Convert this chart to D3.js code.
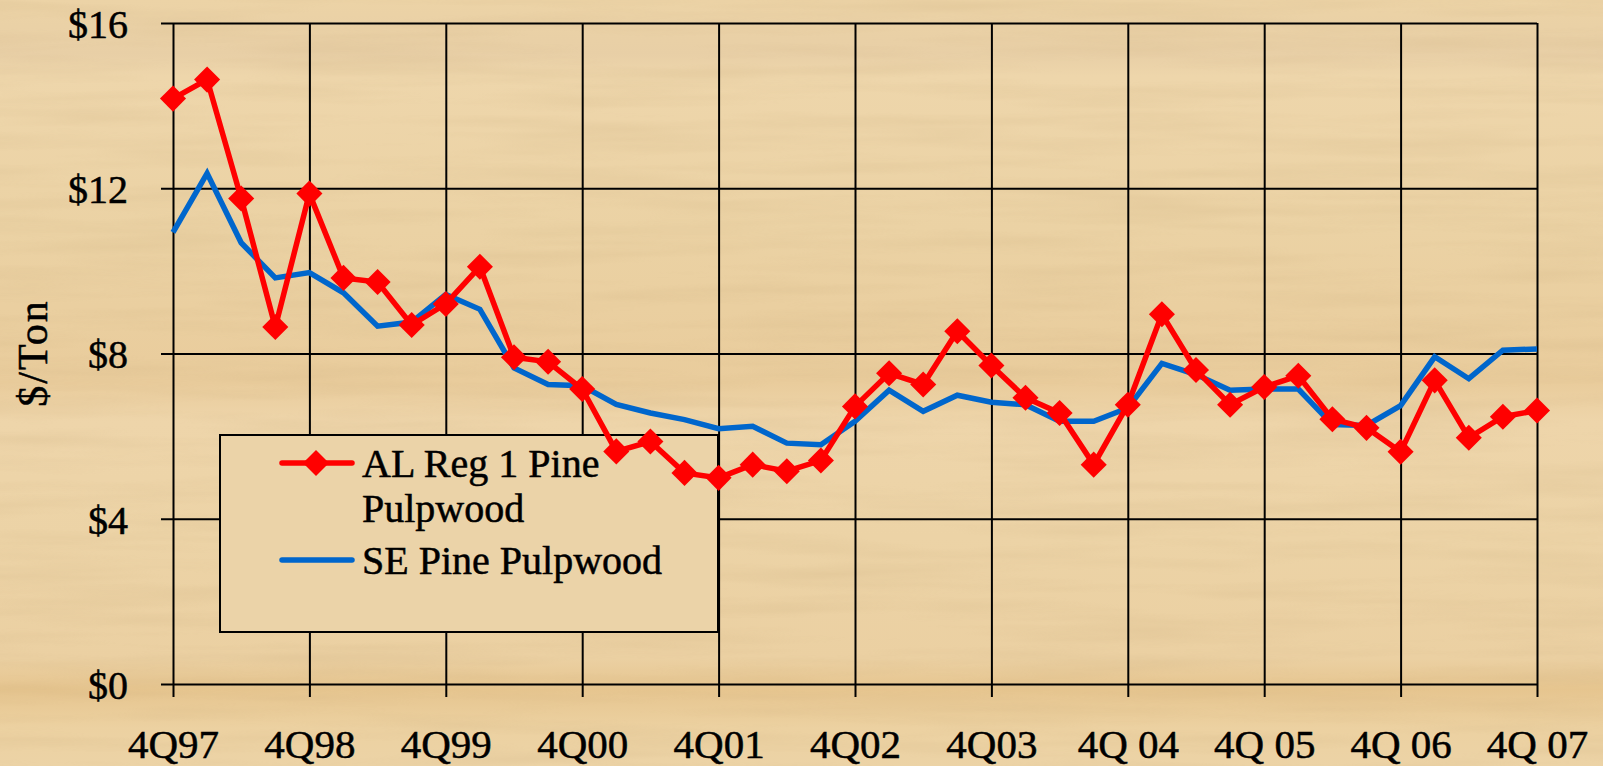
<!DOCTYPE html>
<html>
<head>
<meta charset="utf-8">
<script src="https://cdn.jsdelivr.net/npm/d3@7"></script>
<style>
  html, body { margin: 0; padding: 0; background: #ebd1a4; overflow: hidden; }
  svg { display: block; }
  text { font-family: "Liberation Serif", "Times New Roman", serif; fill: #000; stroke: #000; stroke-width: 0.5px; }
</style>
</head>
<body>
<svg id="chart" width="1603" height="766"></svg>
<script>
// ---------------- data ----------------
const quarterIndex = d3.range(41); // 4Q97 .. 4Q07, quarterly
const xTickLabels = ["4Q97","4Q98","4Q99","4Q00","4Q01","4Q02","4Q03","4Q 04","4Q 05","4Q 06","4Q 07"];
const yTickValues = [0, 4, 8, 12, 16];
const seriesNames = ["AL Reg 1 Pine Pulpwood", "SE Pine Pulpwood"];
const alReg1Pine = [
  14.17, 14.63, 11.75, 8.64, 11.87, 9.83, 9.73, 8.69, 9.20, 10.10,
  7.91, 7.80, 7.14, 5.63, 5.87, 5.11, 4.99, 5.31, 5.15, 5.41,
  6.72, 7.52, 7.25, 8.54, 7.71, 6.93, 6.56, 5.31, 6.76, 8.95,
  7.60, 6.76, 7.19, 7.46, 6.41, 6.20, 5.62, 7.35, 5.96, 6.47, 6.62
];
const sePine = [
  10.93, 12.36, 10.68, 9.83, 9.96, 9.47, 8.66, 8.76, 9.43, 9.07,
  7.65, 7.25, 7.22, 6.77, 6.56, 6.40, 6.18, 6.24, 5.83, 5.79,
  6.36, 7.11, 6.60, 6.99, 6.82, 6.76, 6.36, 6.36, 6.68, 7.76,
  7.49, 7.11, 7.14, 7.14, 6.28, 6.26, 6.74, 7.92, 7.39, 8.08, 8.11
];

// ---------------- layout ----------------
const svg = d3.select("#chart");
const W = 1603, H = 766;
const plot = { left: 173, right: 1537, top: 23, bottom: 684 };

const x = d3.scaleLinear().domain([0, 40]).range([plot.left, plot.right]);
const y = d3.scaleLinear().domain([0, 16]).range([plot.bottom, plot.top]);

// ---------------- background (wood-like texture) ----------------
const defs = svg.append("defs");
const grad = defs.append("linearGradient").attr("id", "bg").attr("x1", 0).attr("y1", 0).attr("x2", 0).attr("y2", 1);
[[0, "#ecd3a6"], [0.07, "#e8cfa6"], [0.1, "#eed6ab"], [0.3, "#ebd2a4"], [0.5, "#e9cc9c"],
 [0.55, "#eed5aa"], [0.7, "#ecd3a6"], [0.86, "#ebd0a2"], [0.9, "#e6c58f"], [0.95, "#ecd1a1"], [1, "#ecd3a6"]]
  .forEach(([o, c]) => grad.append("stop").attr("offset", o).attr("stop-color", c));

const f = defs.append("filter").attr("id", "grain").attr("x", 0).attr("y", 0).attr("width", "100%").attr("height", "100%");
f.append("feTurbulence").attr("type", "fractalNoise").attr("baseFrequency", "0.004 0.06").attr("numOctaves", 3).attr("seed", 7).attr("result", "n");
f.append("feColorMatrix").attr("in", "n").attr("type", "matrix")
  .attr("values", "0 0 0 0 0.55  0 0 0 0 0.38  0 0 0 0 0.18  0 0 0 -0.9 0.55");

svg.append("rect").attr("width", W).attr("height", H).attr("fill", "url(#bg)");
svg.append("rect").attr("width", W).attr("height", H).attr("filter", "url(#grain)").attr("opacity", 0.35);

// ---------------- grid & axes ----------------
const gridColor = "#000";

const yAxis = d3.axisLeft(y)
  .tickValues(yTickValues)
  .tickFormat(d => "$" + d)
  .tickSizeInner(-(plot.right - 161))
  .tickSizeOuter(0)
  .tickPadding(33);
const gy = svg.append("g").attr("transform", "translate(161,0)").call(yAxis);
gy.select(".domain").remove();
gy.selectAll(".tick line").attr("stroke", gridColor).attr("stroke-width", 2.2);
gy.selectAll(".tick text").attr("font-size", 40).attr("dy", "0.36em").attr("font-family", "Liberation Serif, serif");

const xAxis = d3.axisBottom(x)
  .tickValues(d3.range(0, 41, 4))
  .tickFormat((d, i) => xTickLabels[i])
  .tickSizeInner(-(697 - plot.top))
  .tickSizeOuter(0)
  .tickPadding(32);
const gx = svg.append("g").attr("transform", "translate(0,697)").call(xAxis);
gx.select(".domain").remove();
gx.selectAll(".tick line").attr("stroke", gridColor).attr("stroke-width", 2);
gx.selectAll(".tick text").attr("font-size", 41).attr("font-family", "Liberation Serif, serif");

// y axis title
svg.append("text")
  .attr("transform", "translate(47,353) rotate(-90)")
  .attr("text-anchor", "middle")
  .attr("font-size", 42)
  .attr("letter-spacing", 2)
  .text("$/Ton");

// ---------------- legend box (under series) ----------------
const leg = { x: 220, y: 435, w: 498, h: 197 };
svg.append("rect")
  .attr("x", leg.x).attr("y", leg.y).attr("width", leg.w).attr("height", leg.h)
  .attr("fill", "#ebd3a8").attr("stroke", "#000").attr("stroke-width", 2);

// ---------------- series ----------------
const line = d3.line().x((d, i) => x(quarterIndex[i])).y(d => y(d));
const diamond = d3.symbol().type(d3.symbolSquare).size(340);

svg.append("path").datum(sePine)
  .attr("d", line).attr("fill", "none").attr("stroke", "#0066cc").attr("stroke-width", 5.5)
  .attr("stroke-linejoin", "miter");

svg.append("path").datum(alReg1Pine)
  .attr("d", line).attr("fill", "none").attr("stroke", "#ff0000").attr("stroke-width", 5.5)
  .attr("stroke-linejoin", "miter");

svg.append("g").selectAll("path").data(alReg1Pine).join("path")
  .attr("d", diamond)
  .attr("transform", (d, i) => `translate(${x(quarterIndex[i])},${y(d)}) rotate(45)`)
  .attr("fill", "#ff0000");

// ---------------- legend contents ----------------
const lg = svg.append("g");
lg.append("line").attr("x1", 282).attr("x2", 352).attr("y1", 463).attr("y2", 463)
  .attr("stroke", "#ff0000").attr("stroke-width", 5.5).attr("stroke-linecap", "round");
lg.append("path").attr("d", diamond).attr("transform", "translate(316,463) rotate(45)").attr("fill", "#ff0000");
lg.append("text").attr("x", 362).attr("y", 477).attr("font-size", 40).text("AL Reg 1 Pine");
lg.append("text").attr("x", 362).attr("y", 522).attr("font-size", 40).text("Pulpwood");

lg.append("line").attr("x1", 282).attr("x2", 352).attr("y1", 560).attr("y2", 560)
  .attr("stroke", "#0066cc").attr("stroke-width", 5.5).attr("stroke-linecap", "round");
lg.append("text").attr("x", 362).attr("y", 574).attr("font-size", 40).text(seriesNames[1]);
</script>
</body>
</html>
